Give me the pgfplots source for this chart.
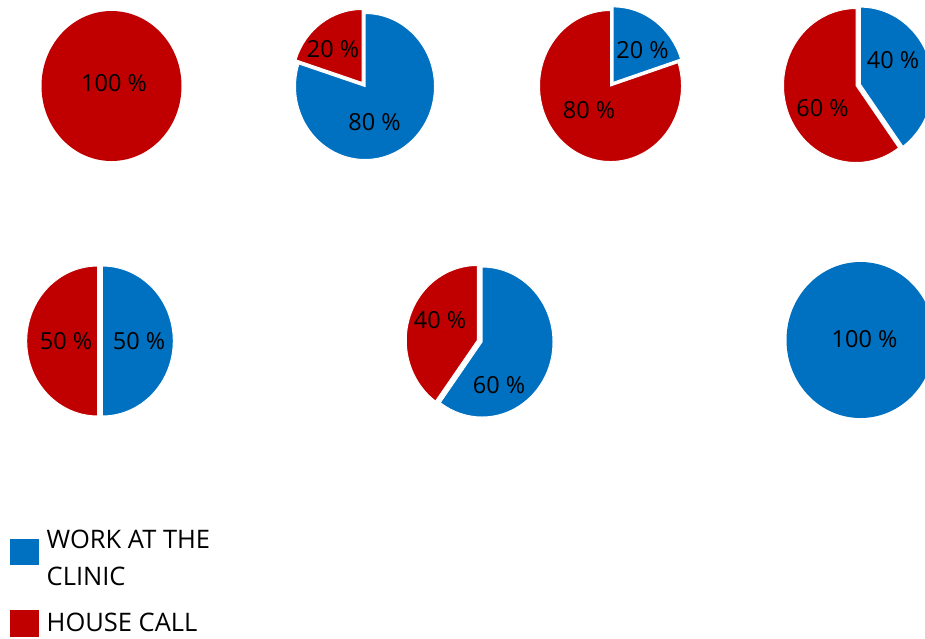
\documentclass[border=0pt]{standalone}
\usepackage{fontspec}
\setmainfont{Open Sans}
\usepackage{pgfplots}
\pgfplotsset{compat=1.18}
\usetikzlibrary{calc}
\definecolor{cblue}{HTML}{0070C0}
\definecolor{cred}{HTML}{C00000}
% one slice: cx, cy, rx, ry, start angle, end angle, explode, colour
\newcommand{\pieslice}[8]{%
  \pgfmathsetmacro\pmid{(#5+#6)/2}%
  \fill[#8, draw=white, line width=1pt]
    ($(axis cs:#1,#2)+(\pmid:#7pt)$) -- ++(#5:#3pt and #4pt)
    arc[start angle=#5, end angle=#6, x radius=#3pt, y radius=#4pt] -- cycle;%
}
% one pie: cx, cy, rx, ry, share of "work at the clinic" (%), explode blue, explode red
\newcommand{\pie}[7]{\pgfplotsextra{%
  \pgfmathsetmacro\bend{90-3.6*#5}%
  \ifdim #5pt<0.5pt
    \fill[cred] (axis cs:#1,#2) ellipse[x radius=#3pt, y radius=#4pt];%
  \else\ifdim #5pt>99.5pt
    \fill[cblue] (axis cs:#1,#2) ellipse[x radius=#3pt, y radius=#4pt];%
  \else
    \pieslice{#1}{#2}{#3}{#4}{90}{\bend}{#6}{cblue}%
    \pieslice{#1}{#2}{#3}{#4}{\bend}{-270}{#7}{cred}%
  \fi\fi}}
\begin{document}
\begin{tikzpicture}
\begin{axis}[x=1pt, y=1pt, xmin=0, xmax=925, ymin=0, ymax=638, y dir=reverse,
  hide axis, clip=true]
% pies: centre x, centre y, radii, WORK AT THE CLINIC share
\pie{111.5}{86}{70}{75}{0}{0}{0}
\pie{365}{86.5}{69.5}{73}{80}{0}{5}
\pie{610.5}{86}{71}{75.5}{20}{4.5}{0}
\pie{856}{85.5}{72.5}{77}{40}{4.5}{0}
\pie{100}{341}{71}{75}{50}{2.3}{2.3}
\pie{482}{342}{71}{75}{60}{0}{5}
\pie{860.5}{340}{74}{78}{100}{0}{0}
% data labels
\begin{scope}[every node/.style={inner sep=0pt, font=\fontsize{23.5}{26}\selectfont, text=black}]
\node at (axis cs:114,83) {100 \%};
\node at (axis cs:333,49.5) {20 \%};
\node at (axis cs:374.5,122) {80 \%};
\node at (axis cs:642.5,50) {20 \%};
\node at (axis cs:589,110) {80 \%};
\node at (axis cs:893,60) {40 \%};
\node at (axis cs:822.5,108) {60 \%};
\node at (axis cs:66,341) {50 \%};
\node at (axis cs:139,341) {50 \%};
\node at (axis cs:440,320) {40 \%};
\node at (axis cs:499,385) {60 \%};
\node at (axis cs:864.5,339.5) {100 \%};
\end{scope}
% legend
\fill[cblue] (axis cs:10,539) rectangle (axis cs:39.3,565);
\fill[cred] (axis cs:10,610) rectangle (axis cs:39.3,636.7);
\begin{scope}[every node/.style={inner sep=0pt, anchor=base west, font=\fontsize{25.5}{30}\selectfont}]
\node at (axis cs:46.5,548.3) {WORK AT THE};
\node at (axis cs:46.5,585) {CLINIC};
\node at (axis cs:46.5,631.7) {HOUSE CALL};
\end{scope}
\end{axis}
\pgfresetboundingbox
\path (current axis.south west) rectangle (current axis.north east);
\end{tikzpicture}
\end{document}
